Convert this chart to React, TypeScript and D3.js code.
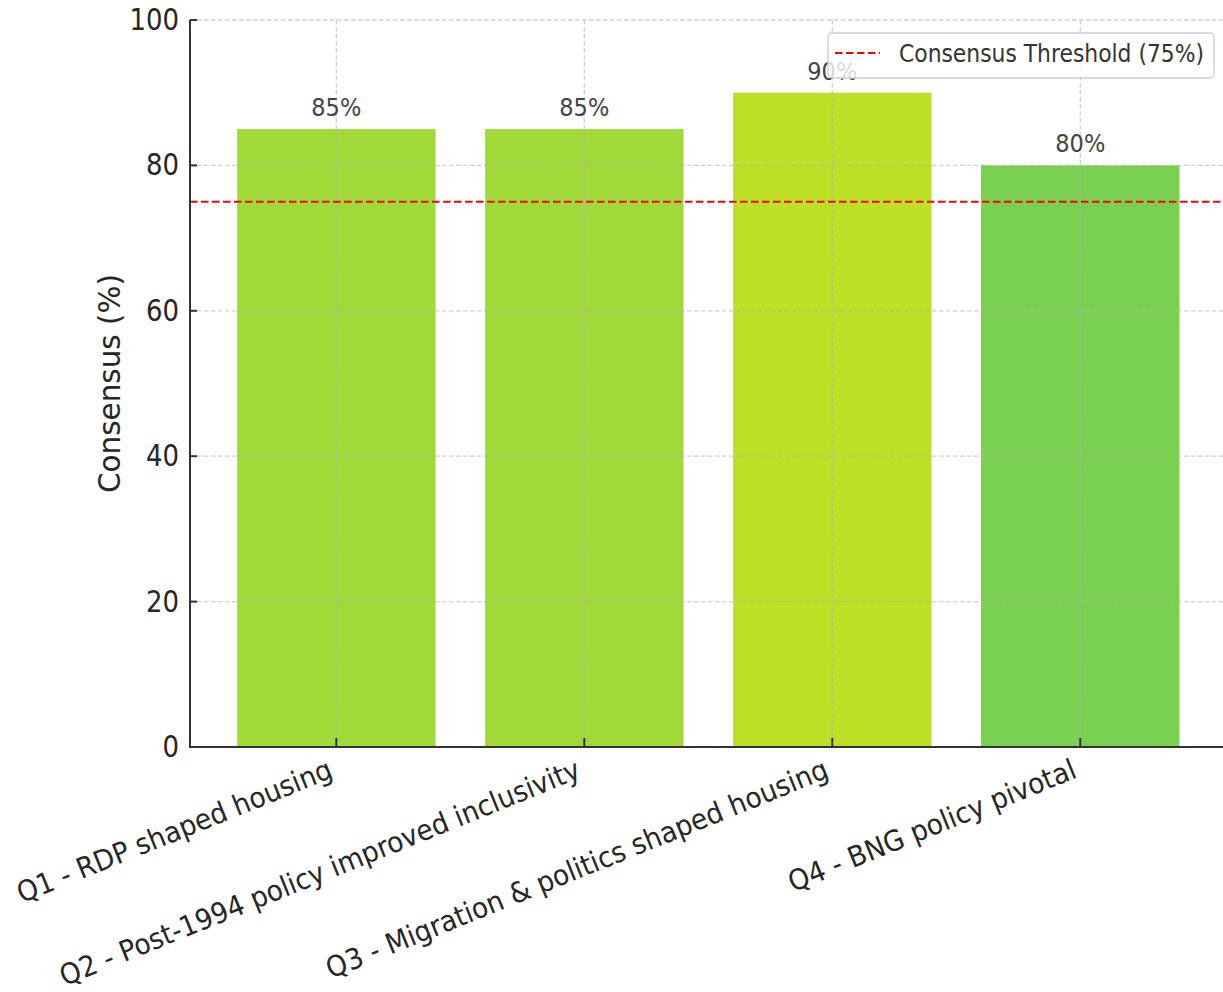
import React from "react";
import * as d3 from "d3";

const categories = [
  "Q1 - RDP shaped housing",
  "Q2 - Post-1994 policy improved inclusivity",
  "Q3 - Migration & politics shaped housing",
  "Q4 - BNG policy pivotal",
];
const consensus = [85, 85, 90, 80];
const barColors = ["#a0da39", "#a0da39", "#bddf26", "#7ad151"];
const threshold = 75;
const yTicks = [0, 20, 40, 60, 80, 100];
const legendLabel = "Consensus Threshold (75%)";
const yLabel = "Consensus (%)";

// layout-only constants
const W = 1223;
const H = 992;
const FONT = "'DejaVu Sans', sans-serif";

export default function App() {
  const x = d3.scaleLinear().domain([-0.59, 3.59]).range([190, 1226.6]);
  const y = d3.scaleLinear().domain([0, 100]).range([747, 20]);
  const bw = x(0.4) - x(-0.4);
  const left = x(-0.59);
  const bottom = y(0);
  const top = y(100);

  return (
    <svg
      width={W}
      height={H}
      style={{ position: "absolute", left: 0, top: 0, background: "#fff" }}
      fontFamily={FONT}
    >
      {/* bars */}
      {consensus.map((v, i) => (
        <rect
          key={"b" + i}
          x={x(i) - bw / 2}
          y={y(v)}
          width={bw}
          height={bottom - y(v)}
          fill={barColors[i]}
        />
      ))}
      {/* grid */}
      {yTicks.map((t) => (
        <line
          key={"gy" + t}
          x1={left}
          x2={W}
          y1={y(t)}
          y2={y(t)}
          stroke="#b0b0b0"
          strokeOpacity={0.6}
          strokeWidth={1.3}
          strokeDasharray="4.5,2.5"
        />
      ))}
      {categories.map((c, i) => (
        <line
          key={"gx" + i}
          x1={x(i)}
          x2={x(i)}
          y1={top}
          y2={bottom}
          stroke="#b0b0b0"
          strokeOpacity={0.6}
          strokeWidth={1.3}
          strokeDasharray="4.5,2.5"
        />
      ))}
      {/* threshold */}
      <line
        x1={left}
        x2={W}
        y1={y(threshold)}
        y2={y(threshold)}
        stroke="#ff0000"
        strokeWidth={2}
        strokeDasharray="7.5,3.5"
      />
      {/* value labels */}
      {consensus.map((v, i) => (
        <text
          key={"v" + i}
          transform={`translate(${x(i)},${y(v) - 13}) scale(0.9,1)`}
          textAnchor="middle"
          fontSize={25}
          fill="#444"
        >
          {v}%
        </text>
      ))}
      {/* axes */}
      <line x1={left} x2={left} y1={top} y2={bottom + 1} stroke="#333" strokeWidth={2} />
      <line x1={left - 1} x2={W} y1={bottom} y2={bottom} stroke="#333" strokeWidth={2} />
      {yTicks.map((t) => (
        <g key={"yt" + t}>
          <line x1={left} x2={left + 7} y1={y(t)} y2={y(t)} stroke="#333" strokeWidth={2} />
          <text
            transform={`translate(${left - 11},${y(t)}) scale(0.88,1)`}
            textAnchor="end"
            dominantBaseline="central"
            fontSize={29.5}
            fill="#262626"
          >
            {t}
          </text>
        </g>
      ))}
      {categories.map((c, i) => (
        <g key={"xt" + i}>
          <line x1={x(i)} x2={x(i)} y1={bottom} y2={bottom - 9} stroke="#333" strokeWidth={2} />
          <text
            transform={`translate(${x(i) - 2},${bottom + 30}) rotate(-22) scale(0.93,1)`}
            textAnchor="end"
            fontSize={28.5}
            fill="#262626"
          >
            {c}
          </text>
        </g>
      ))}
      {/* y label */}
      <text
        transform={`translate(120,${(top + bottom) / 2}) rotate(-90) scale(0.95,1)`}
        textAnchor="middle"
        fontSize={31}
        fill="#262626"
      >
        {yLabel}
      </text>
      {/* legend */}
      <rect
        x={828}
        y={33}
        width={386}
        height={45}
        rx={4}
        fill="#fff"
        fillOpacity={0.8}
        stroke="#cccccc"
        strokeWidth={1.3}
      />
      <line x1={835} x2={880} y1={53} y2={53} stroke="#ff0000" strokeWidth={2} strokeDasharray="7.5,3.5" />
      <text transform="translate(899,62) scale(0.875,1)" fontSize={25} fill="#333">
        {legendLabel}
      </text>
    </svg>
  );
}
